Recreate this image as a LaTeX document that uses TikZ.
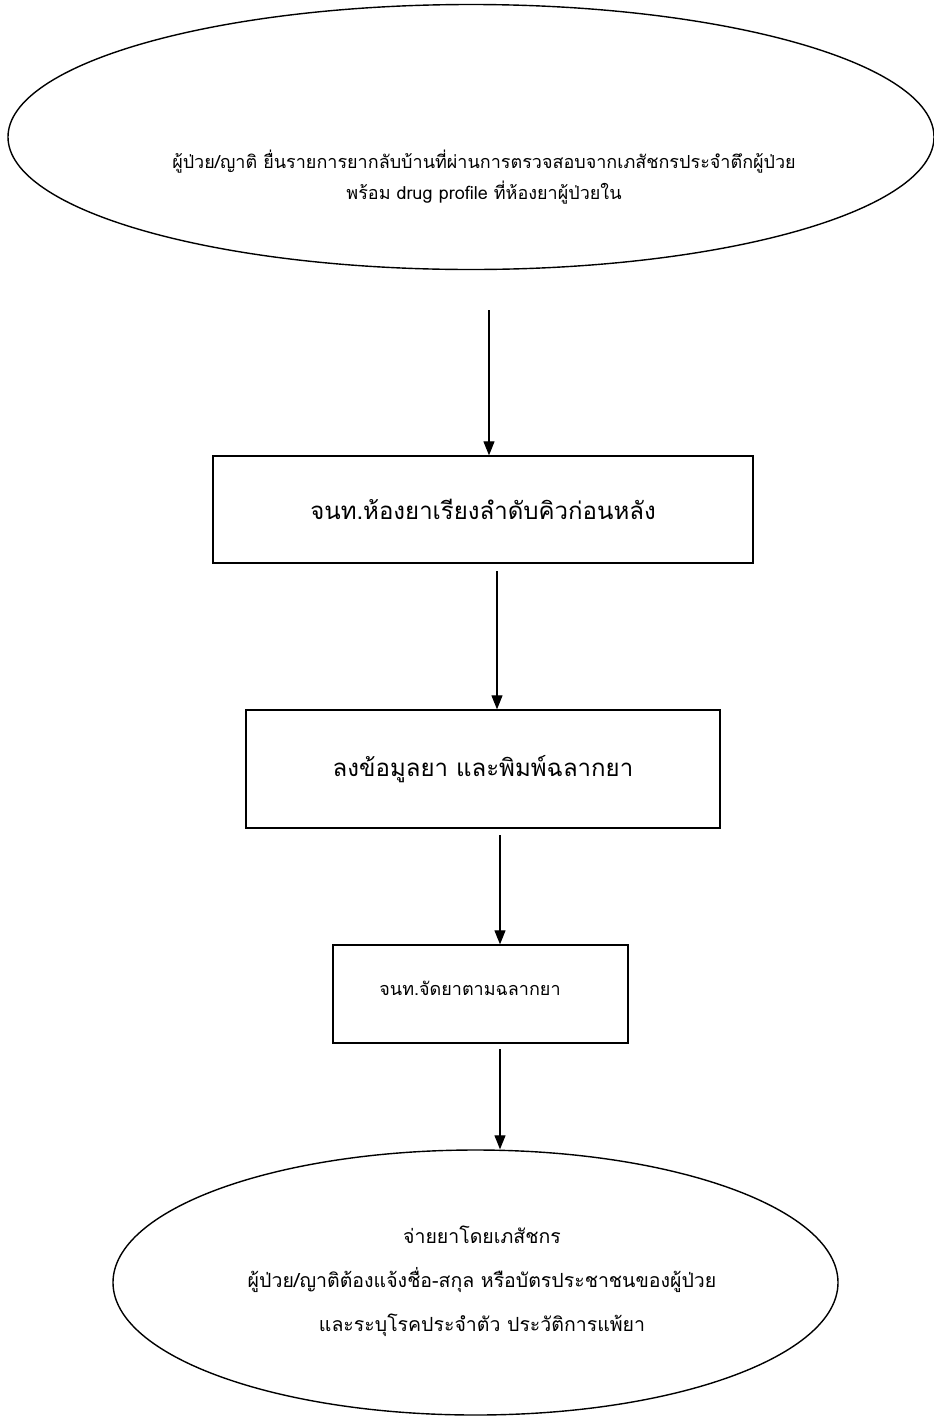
\documentclass[tikz,border=0pt]{standalone}
\usepackage{fontspec}
\newfontfamily\thai[Script=Thai]{Loma}
\usetikzlibrary{shapes.geometric,arrows.meta}
\begin{document}
\begin{tikzpicture}[x=1pt,y=-1pt,
  box/.style={draw, line width=1.3pt, inner sep=0pt, align=center},
  oval/.style={ellipse, draw, line width=1.4pt, inner sep=0pt, align=center},
  lbl/.style={align=center, inner sep=0pt},
  arr/.style={line width=1.1pt, -{Triangle[width=11pt,length=14pt]}},
  big/.style={font=\thai\fontsize{24}{28}\selectfont},
  mid/.style={font=\thai\fontsize{18}{22}\selectfont},
  small/.style={font=\thai\fontsize{18}{31}\selectfont},
  low/.style={font=\thai\fontsize{19.5}{44}\selectfont},
]
\useasboundingbox (0,0) rectangle (934,1422);
% top ellipse
\node[oval, minimum width=926pt, minimum height=265pt] (e1) at (471,137) {};
\node[lbl, small] (t1) at (484,177) {ผู้ป่วย/ญาติ ยื่นรายการยากลับบ้านที่ผ่านการตรวจสอบจากเภสัชกรประจำตึกผู้ป่วย\\พร้อม drug profile ที่ห้องยาผู้ป่วยใน};
% boxes
\node[box, big, minimum width=540pt, minimum height=107pt] (b1) at (483,509.5) {จนท.ห้องยาเรียงลำดับคิวก่อนหลัง};
\node[box, big, minimum width=474pt, minimum height=118pt] (b2) at (483,769) {ลงข้อมูลยา และพิมพ์ฉลากยา};
\node[box, minimum width=295pt, minimum height=98pt] (b3) at (480.5,994) {};
\node[lbl, mid] (t3) at (470,988) {จนท.จัดยาตามฉลากยา};
% bottom ellipse
\node[oval, minimum width=725pt, minimum height=265pt] (e2) at (475.5,1282.5) {};
\node[lbl, low] (t2) at (482,1281) {จ่ายยาโดยเภสัชกร\\ผู้ป่วย/ญาติต้องแจ้งชื่อ-สกุล หรือบัตรประชาชนของผู้ป่วย\\และระบุโรคประจำตัว ประวัติการแพ้ยา};
% connectors
\coordinate (s1) at (489,310);
\draw[arr] (s1) -- (s1 |- b1.north);
\coordinate (s2) at (497,571);
\draw[arr] (s2) -- (s2 |- b2.north);
\coordinate (s3) at (500,835);
\draw[arr] (s3) -- (s3 |- b3.north);
\coordinate (s4) at (500,1049);
\draw[arr] (s4) -- (s4 |- e2.north);
\end{tikzpicture}
\end{document}
